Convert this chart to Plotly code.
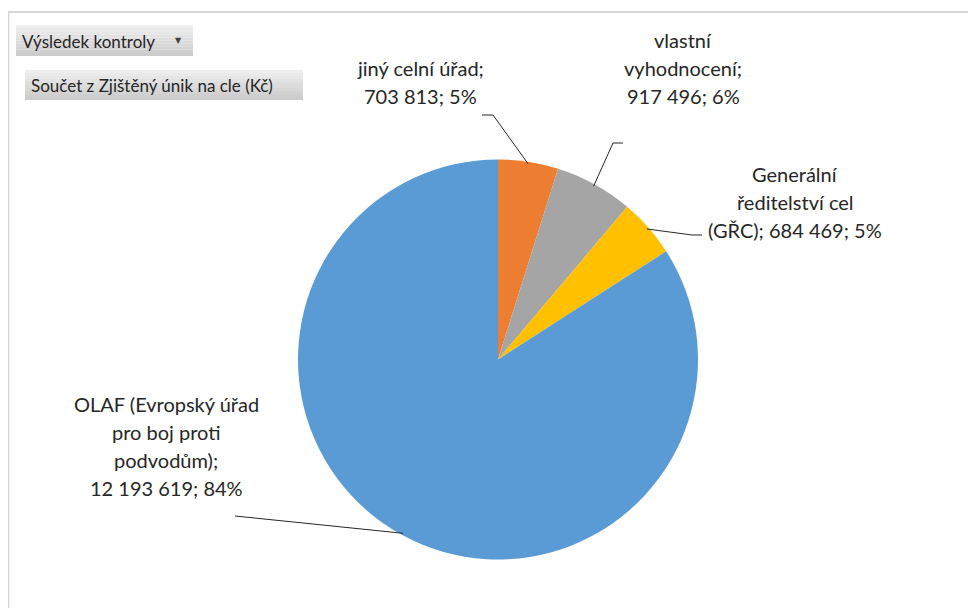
import math
import textwrap
import plotly.graph_objects as go

# ---- data ----
categories = [
    "jiný celní úřad",
    "vlastní vyhodnocení",
    "Generální ředitelství cel (GŘC)",
    "OLAF (Evropský úřad pro boj proti podvodům)",
]
values = [703813, 917496, 684469, 12193619]
colors = ["#ED7D31", "#A5A5A5", "#FFC000", "#5B9BD5"]
filter_label = "Výsledek kontroly"
value_field_label = "Součet z Zjištěný únik na cle (Kč)"

# ---- layout constants (pixels, in screenshot coordinates) ----
W, H = 976, 608
OFF = 8  # page body margin
CX, CY, R = 498, 359.5, 200
FONT = "Lato"
TXT = "#262626"


def fx(x):
    return (x - OFF) / W


def fy(y):
    return 1 - (y - OFF) / H


total = sum(values)


def fmt(v):
    return f"{v:,}".replace(",", "\u00a0")


pcts = [round(v / total * 100) for v in values]
wrap_widths = [16, 12, 18, 19]
label_center_x = [420, 683, 795, 166]
label_first_y = [68, 40, 174, 404]
line_gap = 28

fig = go.Figure()
fig.add_trace(go.Pie(
    labels=categories,
    values=values,
    marker=dict(colors=colors, line=dict(width=0)),
    sort=False,
    direction="clockwise",
    rotation=0,
    textinfo="none",
    hoverinfo="label+value+percent",
    showlegend=False,
    domain=dict(x=[fx(CX - R), fx(CX + R)], y=[fy(CY + R), fy(CY - R)]),
))

annotations = []
shapes = []

# outer chart border
shapes.append(dict(type="rect", xref="paper", yref="paper",
                   x0=fx(8.5), x1=fx(1000), y0=fy(640), y1=fy(12),
                   line=dict(color="#D9D9D9", width=2), fillcolor="rgba(0,0,0,0)", layer="below"))

# data labels
for i, cat in enumerate(categories):
    text = f"{cat}; {fmt(values[i])}; {pcts[i]}%"
    lines = textwrap.wrap(text, wrap_widths[i])
    for j, ln in enumerate(lines):
        annotations.append(dict(
            x=fx(label_center_x[i]), y=fy(label_first_y[i] + j * line_gap),
            xref="paper", yref="paper", text=ln, showarrow=False,
            xanchor="center", yanchor="middle",
            font=dict(family=FONT, size=20, color=TXT),
        ))

# leader lines: endpoint on slice computed from data
cum = 0
mids = []
for v in values:
    mids.append((cum + v / 2) / total * 2 * math.pi)
    cum += v


def slice_pt(i, r=R):
    a = mids[i]
    return CX + r * math.sin(a), CY - r * math.cos(a)


leader_elbows = [
    [(482, 115), (493, 115)],
    [(623, 143), (613, 143)],
    [(702, 235), (692, 235)],
    [(235, 516)],
]
for i, pts in enumerate(leader_elbows):
    sx, sy = slice_pt(i, R - 2)
    path_pts = pts + [(sx, sy)]
    d = "M " + " L ".join(f"{fx(x)},{fy(y)}" for x, y in path_pts)
    shapes.append(dict(type="path", xref="paper", yref="paper", path=d,
                       line=dict(color="#262626", width=1)))


# pivot buttons (gradient by stacked strips)
def button(x0, y0, x1, y1, text, arrow=False):
    n = 10
    top = (238, 238, 238)
    bot = (204, 204, 204)
    for k in range(n):
        t = k / (n - 1)
        c = tuple(int(top[m] + (bot[m] - top[m]) * t) for m in range(3))
        ya = y0 + (y1 - y0) * k / n
        yb = y0 + (y1 - y0) * (k + 1) / n
        shapes.append(dict(type="rect", xref="paper", yref="paper",
                           x0=fx(x0), x1=fx(x1), y0=fy(yb), y1=fy(ya),
                           line=dict(width=0), fillcolor=f"rgb{c}", layer="below"))
    annotations.append(dict(x=fx(x0 + 4), y=fy((y0 + y1) / 2 + 1), xref="paper", yref="paper",
                            text=text, showarrow=False, xanchor="left", yanchor="middle",
                            font=dict(family=FONT, size=17, color=TXT)))
    if arrow:
        annotations.append(dict(x=fx(x1 - 15), y=fy((y0 + y1) / 2), xref="paper", yref="paper",
                                text="▼", showarrow=False, xanchor="center", yanchor="middle",
                                font=dict(family="DejaVu Sans", size=8, color="#404040")))


button(16, 25, 193, 56, filter_label, arrow=True)
button(25, 70, 303, 100, value_field_label)

fig.update_layout(
    width=W, height=H,
    margin=dict(l=0, r=0, t=0, b=0),
    paper_bgcolor="white",
    plot_bgcolor="white",
    annotations=annotations,
    shapes=shapes,
    font=dict(family=FONT, color=TXT),
)

fig.write_html("out.html", config={"displayModeBar": False})
